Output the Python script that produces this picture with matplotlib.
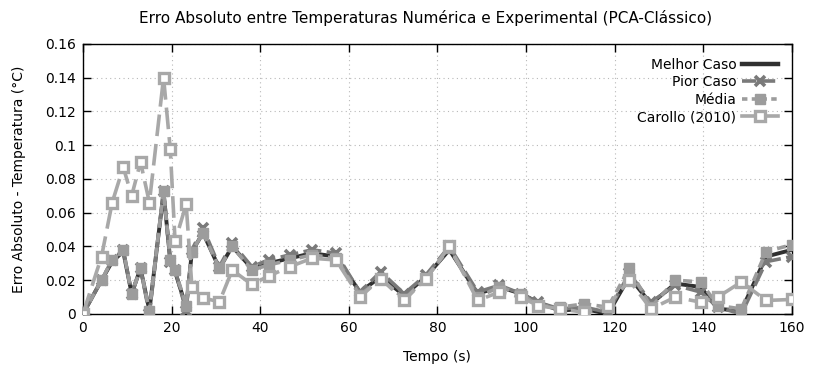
import matplotlib
matplotlib.use('Agg')
import matplotlib.pyplot as plt
from matplotlib.lines import Line2D

# Tempo (s) dos pontos
tempo = [0, 4.2, 6.6, 9.1, 11.0, 13.0, 15.0, 18.2, 19.7, 20.8, 23.3, 24.6,
         27.1, 30.8, 33.7, 38.1, 41.9, 46.7, 51.7, 57.1, 62.5, 67.2, 72.5,
         77.4, 82.7, 89.1, 94.0, 98.9, 102.6, 107.6, 113.2, 118.5, 123.3,
         128.2, 133.7, 139.4, 143.3, 148.6, 154.2, 160.0]

melhor = [0, 0.020, 0.031, 0.037, 0.012, 0.027, 0.002, 0.072, 0.032, 0.025, 0.004, 0.037,
          0.048, 0.027, 0.040, 0.027, 0.030, 0.033, 0.036, 0.034, 0.013, 0.022, 0.011,
          0.022, 0.038, 0.012, 0.016, 0.012, 0.007, 0.002, 0.003, 0.000, 0.022,
          0.006, 0.018, 0.016, 0.003, 0.002, 0.034, 0.038]

pior = [0, 0.020, 0.032, 0.038, 0.012, 0.027, 0.000, 0.073, 0.031, 0.026, 0.002, 0.038,
        0.051, 0.028, 0.042, 0.028, 0.032, 0.035, 0.038, 0.036, 0.013, 0.025, 0.012,
        0.023, 0.040, 0.013, 0.017, 0.012, 0.007, 0.003, 0.004, 0.001, 0.024,
        0.007, 0.017, 0.013, 0.004, 0.000, 0.031, 0.034]

media = [0, 0.020, 0.032, 0.038, 0.012, 0.027, 0.002, 0.073, 0.032, 0.026, 0.005, 0.037,
         0.048, 0.027, 0.040, 0.026, 0.029, 0.032, 0.035, 0.033, 0.011, 0.021, 0.009,
         0.021, 0.039, 0.010, 0.016, 0.012, 0.005, 0.004, 0.006, 0.004, 0.027,
         0.004, 0.020, 0.019, 0.005, 0.003, 0.037, 0.041]

carollo = [0, 0.034, 0.066, 0.087, 0.070, 0.090, 0.066, 0.140, 0.098, 0.043, 0.065, 0.016,
           0.0095, 0.0072, 0.026, 0.0175, 0.0224, 0.028, 0.033, 0.032, 0.010, 0.021, 0.008,
           0.021, 0.040, 0.008, 0.013, 0.010, 0.005, 0.003, 0.001, 0.005, 0.020,
           0.003, 0.010, 0.007, 0.010, 0.019, 0.008, 0.0086]

xticks = [0, 20, 40, 60, 80, 100, 120, 140, 160]
yticks = [0, 0.02, 0.04, 0.06, 0.08, 0.1, 0.12, 0.14, 0.16]
ytick_labels = ['0', '0.02', '0.04', '0.06', '0.08', '0.1', '0.12', '0.14', '0.16']

plt.rcParams['font.family'] = ['DejaVu Sans']
plt.rcParams['font.size'] = 10

fig = plt.figure(figsize=(8.13, 3.72), dpi=100)
ax = fig.add_axes([0.102, 0.156, 0.872, 0.726])

c_melhor, c_pior, c_media, c_carollo = '#303030', '#7a7a7a', '#9c9c9c', '#a8a8a8'

ax.plot(tempo, melhor, color=c_melhor, lw=2.8, zorder=2)
ax.plot(tempo, pior, color=c_pior, lw=2.6, dashes=(5, 1.5), marker='x',
        ms=6.5, mew=2.6, zorder=3)
ax.plot(tempo, media, color=c_media, lw=2.6, dashes=(2.5, 1.5), marker='s',
        ms=6.5, zorder=4)
ax.plot(tempo, carollo, color=c_carollo, lw=2.6, dashes=(6, 2.2), marker='s',
        ms=6.5, mfc='white', mew=2.4, zorder=5)

ax.set_xlim(0, 160)
ax.set_ylim(0, 0.16)
ax.set_xticks(xticks)
ax.set_yticks(yticks)
ax.set_yticklabels(ytick_labels)
ax.tick_params(direction='in', top=True, right=True, length=6, width=1, pad=5)
ax.grid(True, linestyle=(0, (1, 3)), color='#b8b8b8', lw=0.8)
for s in ax.spines.values():
    s.set_linewidth(1.0)

ax.set_title('Erro Absoluto entre Temperaturas Numérica e Experimental (PCA-Clássico)',
             fontsize=11, pad=15, x=0.483)
ax.set_xlabel('Tempo (s)', labelpad=11)
ax.set_ylabel('Erro Absoluto - Temperatura (°C)', labelpad=14)

# amostras da legenda (Carollo aparece contínua na legenda)
handles = [
    Line2D([], [], color=c_melhor, lw=3.2),
    Line2D([], [], color=c_pior, lw=2.6, dashes=(4, 1.2), marker='x', ms=6.5, mew=2.6),
    Line2D([], [], color=c_media, lw=2.6, dashes=(1.5, 1.2), marker='s', ms=6.5),
    Line2D([], [], color=c_carollo, lw=2.6, marker='s', ms=6.5, mfc='white', mew=2.4),
]
labels = ['Melhor Caso', 'Pior Caso', 'Média', 'Carollo (2010)']
ax.legend(handles, labels, loc='upper right', frameon=False, markerfirst=False,
          handlelength=2.6, handletextpad=0.4, labelspacing=0.25,
          borderaxespad=0.6, fontsize=10)

fig.savefig('out.png', dpi=100)
